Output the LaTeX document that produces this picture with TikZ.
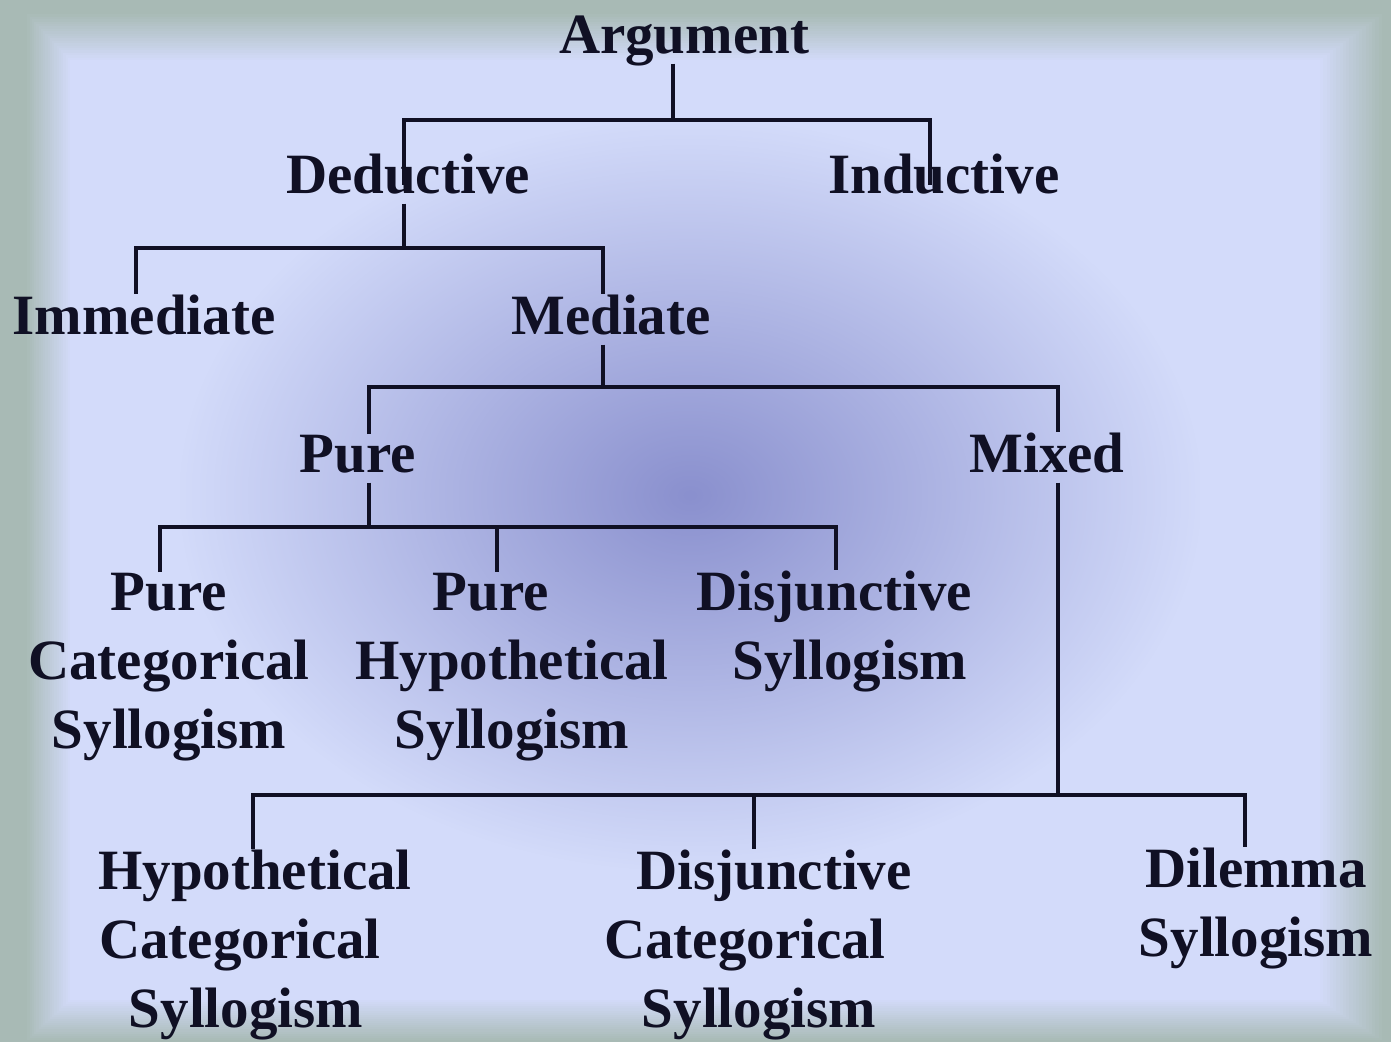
\documentclass[tikz,border=0pt]{standalone}
\usepackage{fontspec}
\setmainfont{Liberation Serif}
\usepackage{xcolor}
\usetikzlibrary{fadings}
\definecolor{framecol}{RGB}{168,186,181}
\definecolor{lav}{RGB}{211,219,250}
\definecolor{glowcol}{RGB}{138,144,206}
\definecolor{inkcol}{RGB}{16,16,36}
\tikzfading[name=glowfade, inner color=transparent!0, outer color=transparent!100]

\begin{document}
\begin{tikzpicture}[x=0.01cm, y=-0.01cm]
        % Define styles
        \tikzstyle{term} = [text=inkcol, font=\fontsize{16.2}{19.6}\selectfont\bfseries, align=center, anchor=base, inner sep=0pt]
        \tikzstyle{parent} = [term, text depth=0.1cm]
        \tikzstyle{line} = [draw=inkcol, line width=1.4pt]

        % Background with soft frame and glow
        \useasboundingbox (0,0) rectangle (1391,1042);
        \fill [framecol] (0,0) rectangle (1391,1042);
        \foreach \i [evaluate=\i as \p using int(5*\i)] in {0,...,20}
            \fill [lav!\p!framecol] (25+2.25*\i, 12+2.4*\i) rectangle (1385-3.25*\i, 1042-2.1*\i);
        \fill [glowcol, path fading=glowfade] (180,120) rectangle (1200,870);

        % Define nodes (multi-line labels sit on the baseline of their last line)
        \node [parent] (Arg) at (684,53) {Argument};
        \node [parent] (Ded) at (408,193) {Deductive};
        \node [term] (Ind) at (944,193) {Inductive};
        \node [term] (Imm) at (144,334) {Immediate};
        \node [parent] (Med) at (611,334) {Mediate};
        \node [parent] (Pure) at (358,472) {Pure};
        \node [parent] (Mix) at (1047,472) {Mixed};
        \node [term] (PCS) at (169,748) {Pure\\Categorical\\Syllogism};
        \node [term] (PHS) at (512,748) {Pure\rule{0.42cm}{0pt}\\Hypothetical\\Syllogism};
        \node [term] (DS) at (842,679) {Disjunctive\rule{0.15cm}{0pt}\\\rule{0.15cm}{0pt}Syllogism};
        \node [term] (HCS) at (246,1027) {\rule{0.18cm}{0pt}Hypothetical\\Categorical\rule{0.12cm}{0pt}\\Syllogism};
        \node [term] (DCS) at (759,1027) {\rule{0.3cm}{0pt}Disjunctive\\Categorical\rule{0.28cm}{0pt}\\Syllogism};
        \node [term] (Dil) at (1256,956) {Dilemma\\Syllogism};

        % Junctions on the branch lines
        \coordinate (Arg-bot) at (673,120);
        \coordinate (Ded-top) at (404,120);
        \coordinate (Ind-top) at (930,120);
        \coordinate (Imm-top) at (136,248);
        \coordinate (Med-top) at (603,248);
        \coordinate (Pure-top) at (369,387);
        \coordinate (Mix-top) at (1058,387);
        \coordinate (PCS-top) at (160,527);
        \coordinate (PHS-top) at (497,527);
        \coordinate (DS-top) at (836,527);
        \coordinate (HCS-top) at (253,795);
        \coordinate (DCS-top) at (754,795);
        \coordinate (Dil-top) at (1245,795);

        % Connect nodes with paths
        \path [line] (Arg-bot |- Arg.south) -- (Arg-bot);
        \foreach \p/\c in {Ded/Imm, Med/Pure, Pure/PCS, Mix/HCS}
            \path [line] (\p-top |- \p.south) -- (\p-top |- \c-top);
        \path [line] (Ded-top |- Ded.mid) -- (Ded-top) -- (Ind-top) -- (Ind-top |- Ind.mid);
        \path [line] (Imm-top |- Imm.north) -- (Imm-top) -- (Med-top) -- (Med-top |- Med.north);
        \path [line] (Pure-top |- Pure.north) -- (Pure-top) -- (Mix-top) -- (Mix-top |- Mix.north);
        \path [line] (PCS-top |- PCS.north) -- (PCS-top) -- (DS-top) -- (DS-top |- DS.north);
        \path [line] (HCS-top |- HCS.north) -- (HCS-top) -- (Dil-top) -- (Dil-top |- Dil.north);
        \foreach \c in {PHS, DCS}
            \path [line] (\c-top) -- (\c-top |- \c.north);

    \end{tikzpicture}
\end{document}
